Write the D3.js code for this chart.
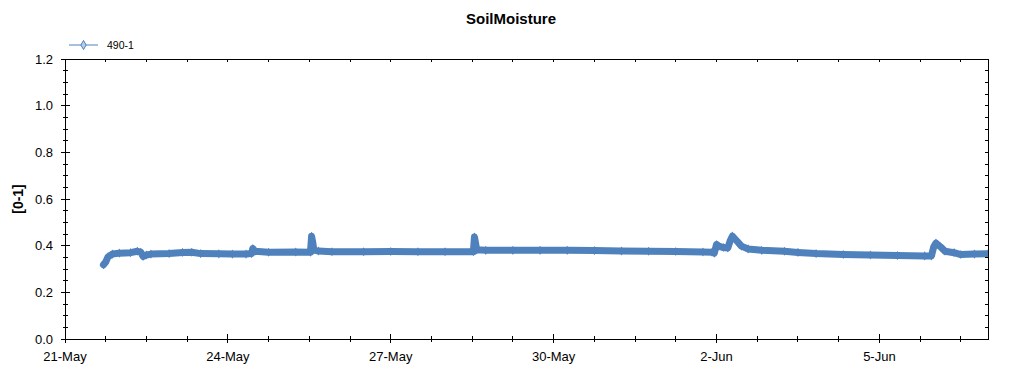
<!DOCTYPE html>
<html>
<head>
<meta charset="utf-8"/>
<title>SoilMoisture</title>
<script src="https://d3js.org/d3.v7.min.js"></script>
<style>
body { margin: 0; background: #fff; }
svg text { font-family: "Liberation Sans", Arial, sans-serif; fill: #000; }
</style>
</head>
<body>
<div id="chart"></div>
<script>
var title = "SoilMoisture";
var yLabel = "[0-1]";
var seriesName = "490-1";
var xDomain = ["05-21 00:00", "06-07 00:00"];
var xTickLabels = ["21-May", "24-May", "27-May", "30-May", "2-Jun", "5-Jun"];
var yTicks = [0.0, 0.2, 0.4, 0.6, 0.8, 1.0, 1.2];

// sampled readings (month-day hour:minute)
var times = [
	"05-21 17:00", "05-21 18:00", "05-21 19:00", "05-21 21:00", "05-22 00:00", "05-22 05:00",
	"05-22 08:00", "05-22 09:30", "05-22 10:30", "05-22 12:00", "05-22 14:00", "05-22 22:00",
	"05-23 04:00", "05-23 08:00", "05-23 12:00", "05-23 20:00", "05-24 02:00", "05-24 08:00",
	"05-24 10:30", "05-24 11:00", "05-24 12:00", "05-24 18:00", "05-25 06:00", "05-25 12:30",
	"05-25 13:00", "05-25 13:30", "05-25 14:00", "05-25 16:00", "05-25 22:00", "05-26 12:00",
	"05-27 00:00", "05-27 12:00", "05-28 00:00", "05-28 12:30", "05-28 13:00", "05-28 13:30",
	"05-28 14:00", "05-28 18:00", "05-29 06:00", "05-29 18:00", "05-30 06:00", "05-30 18:00",
	"05-31 06:00", "05-31 18:00", "06-01 06:00", "06-01 18:00", "06-01 22:00", "06-01 23:00",
	"06-02 00:00", "06-02 01:00", "06-02 03:00", "06-02 05:00", "06-02 06:00", "06-02 07:00",
	"06-02 09:00", "06-02 11:00", "06-02 14:00", "06-02 20:00", "06-03 06:00", "06-03 12:00",
	"06-03 20:00", "06-04 08:00", "06-04 20:00", "06-05 08:00", "06-05 20:00", "06-05 23:00",
	"06-06 00:00", "06-06 01:00", "06-06 03:00", "06-06 05:00", "06-06 09:00", "06-06 12:00",
	"06-06 18:00", "06-07 00:00"
];
var values = [
	0.318, 0.330, 0.352, 0.364, 0.368, 0.370,
	0.376, 0.372, 0.354, 0.360, 0.364, 0.366,
	0.371, 0.372, 0.366, 0.365, 0.364, 0.364,
	0.366, 0.388, 0.376, 0.372, 0.373, 0.372,
	0.440, 0.415, 0.382, 0.377, 0.374, 0.374,
	0.375, 0.374, 0.374, 0.374, 0.437, 0.410,
	0.382, 0.380, 0.380, 0.380, 0.380, 0.379,
	0.377, 0.376, 0.375, 0.373, 0.372, 0.368,
	0.405, 0.398, 0.392, 0.390, 0.420, 0.441,
	0.420, 0.398, 0.386, 0.380, 0.376, 0.371,
	0.366, 0.362, 0.360, 0.358, 0.356, 0.356,
	0.395, 0.411, 0.395, 0.376, 0.370, 0.362,
	0.364, 0.365
];

var parseTime = d3.timeParse("%m-%d %H:%M");
var data = times.map(function(t, i){ return {date: parseTime(t), value: values[i]}; });

var width = 1024, height = 375;
var pLeft = 65, pRight = 988, pTop = 59, pBottom = 339;
var blue = "#4f81bd";

var x = d3.scaleTime()
	.domain(xDomain.map(parseTime))
	.range([pLeft, pRight]);
var y = d3.scaleLinear()
	.domain([0, 1.2])
	.range([pBottom, pTop]);

var svg = d3.select("#chart").append("svg")
	.attr("width", width)
	.attr("height", height);

// ticks: major every 3 days, minor every 18 hours
var start = parseTime(xDomain[0]);
var xMajor = xTickLabels.map(function(d, i){ return d3.timeDay.offset(start, i * 3); });
var xMinor = d3.range(0, 23).map(function(i){ return d3.timeHour.offset(start, i * 18); })
	.filter(function(d){ return d <= x.domain()[1]; });
var yMinor = d3.range(0, 25).map(function(i){ return i * 0.05; });

svg.append("clipPath").attr("id", "plot")
	.append("rect").attr("x", pLeft).attr("y", pTop)
	.attr("width", pRight - pLeft).attr("height", pBottom - pTop);

// series
var line = d3.line()
	.x(function(d){ return x(d.date); })
	.y(function(d){ return y(d.value); });

var series = svg.append("g").attr("clip-path", "url(#plot)");
series.append("path")
	.datum(data)
	.attr("d", line)
	.attr("fill", "none")
	.attr("stroke", blue)
	.attr("stroke-width", 7)
	.attr("stroke-linejoin", "round")
	.attr("stroke-linecap", "round");
series.selectAll(".mark")
	.data(data)
	.enter().append("path")
	.attr("class", "mark")
	.attr("transform", function(d){ return "translate(" + x(d.date) + "," + y(d.value) + ")"; })
	.attr("d", d3.symbol().type(d3.symbolDiamond).size(24))
	.attr("fill", blue);

// frame
var axes = svg.append("g").attr("stroke", "#000").attr("stroke-width", 1).attr("shape-rendering", "crispEdges");
axes.append("rect")
	.attr("x", pLeft).attr("y", pTop)
	.attr("width", pRight - pLeft).attr("height", pBottom - pTop)
	.attr("fill", "none");

axes.selectAll(".ymin").data(yMinor).enter().append("line")
	.attr("x1", pLeft - 2).attr("x2", pLeft + 3)
	.attr("y1", function(d){ return y(d); }).attr("y2", function(d){ return y(d); });
axes.selectAll(".ymaj").data(yTicks).enter().append("line")
	.attr("x1", pLeft - 4).attr("x2", pLeft + 5)
	.attr("y1", function(d){ return y(d); }).attr("y2", function(d){ return y(d); });
axes.selectAll(".yr").data(yMinor).enter().append("line")
	.attr("x1", pRight - 3).attr("x2", pRight)
	.attr("y1", function(d){ return y(d); }).attr("y2", function(d){ return y(d); });

axes.selectAll(".xmin").data(xMinor).enter().append("line")
	.attr("x1", function(d){ return x(d); }).attr("x2", function(d){ return x(d); })
	.attr("y1", pBottom - 3).attr("y2", pBottom + 3);
axes.selectAll(".xmaj").data(xMajor).enter().append("line")
	.attr("x1", function(d){ return x(d); }).attr("x2", function(d){ return x(d); })
	.attr("y1", pBottom - 5).attr("y2", pBottom + 4);
axes.selectAll(".xt").data(xMinor).enter().append("line")
	.attr("x1", function(d){ return x(d); }).attr("x2", function(d){ return x(d); })
	.attr("y1", pTop).attr("y2", pTop + 3);

// labels
svg.selectAll(".ylab").data(yTicks).enter().append("text")
	.attr("x", pLeft - 12)
	.attr("y", function(d){ return y(d) + 4.5; })
	.attr("text-anchor", "end")
	.attr("font-size", 13)
	.text(function(d){ return d.toFixed(1); });

svg.selectAll(".xlab").data(xMajor).enter().append("text")
	.attr("x", function(d){ return x(d); })
	.attr("y", pBottom + 22)
	.attr("text-anchor", "middle")
	.attr("font-size", 13)
	.text(function(d, i){ return xTickLabels[i]; });

svg.append("text")
	.attr("x", 511)
	.attr("y", 24)
	.attr("text-anchor", "middle")
	.attr("font-size", 15)
	.attr("font-weight", "bold")
	.text(title);

svg.append("text")
	.attr("transform", "translate(23," + ((pTop + pBottom) / 2) + ") rotate(-90)")
	.attr("text-anchor", "middle")
	.attr("font-size", 14)
	.attr("font-weight", "bold")
	.text(yLabel);

// legend
var legend = svg.append("g").attr("transform", "translate(69,45)");
legend.append("line").attr("x1", 0).attr("x2", 29).attr("y1", 0).attr("y2", 0)
	.attr("stroke", blue).attr("stroke-width", 1);
legend.append("path")
	.attr("transform", "translate(14.5,0)")
	.attr("d", d3.symbol().type(d3.symbolDiamond).size(24))
	.attr("fill", "#b9cde5").attr("stroke", blue);
legend.append("text").attr("x", 38).attr("y", 4)
	.attr("font-size", 10.5)
	.text(seriesName);
</script>
</body>
</html>
